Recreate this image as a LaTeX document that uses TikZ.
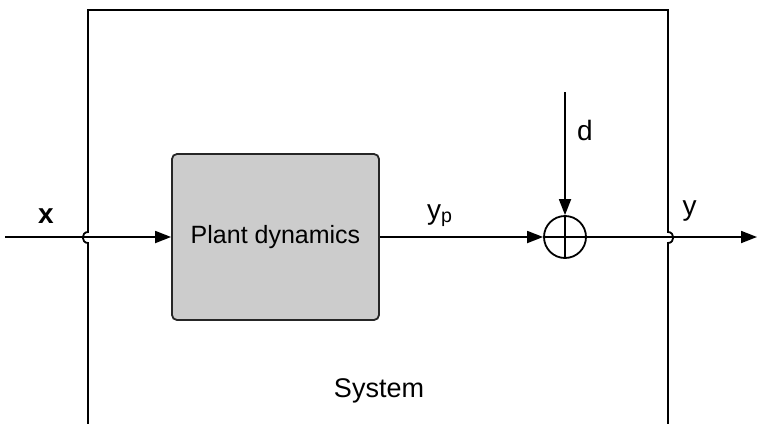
\documentclass[tikz,border=0pt]{standalone}
\usepackage{fontspec}
\setmainfont{Liberation Sans}
\usetikzlibrary{arrows.meta}
\begin{document}
\begin{tikzpicture}[x=1pt,y=-1pt,
  wire/.style={line width=1.8pt, draw=black},
  sig/.style={wire, -{Triangle[length=16pt,width=12pt]}},
  lbl/.style={font=\fontsize{28}{32}\selectfont, inner sep=0pt, anchor=base},
  plantbox/.style={draw=black!85, line width=1.8pt, fill=black!20, rounded corners=5pt,
    minimum width=207pt, minimum height=166pt, font=\fontsize{25}{29}\selectfont},
  sumjunction/.style={circle, draw=black, line width=1.8pt, minimum size=42pt, inner sep=0pt}]
\useasboundingbox (0,0) rectangle (759,423);
% system boundary (bottom edge lies outside the frame)
\coordinate (tl) at (88,10);
\coordinate (tr) at (668,10);
\coordinate (bl) at (88,424);
\coordinate (br) at (668,424);
\draw[wire] (bl) -- (88,243) .. controls (81,243) and (81,232) .. (88,232) -- (tl) -- (tr)
  -- (668,232) .. controls (675,232) and (675,243) .. (668,243) -- (br);
% blocks
\node[plantbox] (plant) at (275.5,237) {Plant dynamics};
\node[sumjunction] (sum) at (565,237) {};
\draw[wire] (sum.north) -- (sum.south) (sum.west) -- (sum.east);
% signals
\coordinate (xin) at (5,237);
\coordinate (dtop) at (565,92);
\coordinate (yout) at (757,237);
\draw[sig] (xin) -- (plant.west);
\draw[sig] (plant.east) -- (sum.west);
\draw[sig] (dtop) -- (sum.north);
\draw[sig] (sum.east) -- (yout);
% labels
\node[lbl, font=\fontsize{28}{32}\selectfont\bfseries] (xlbl) at (46,223) {x};
\node[lbl] (dlbl) at (585,140) {d};
\node[lbl] (ylbl) at (689.5,215) {y};
\node[lbl, anchor=base west] (yplbl) at (427,219) {y\textsubscript{p}};
\node[lbl, font=\fontsize{27}{31}\selectfont] (syslbl) at (379,397) {System};
\end{tikzpicture}
\end{document}
